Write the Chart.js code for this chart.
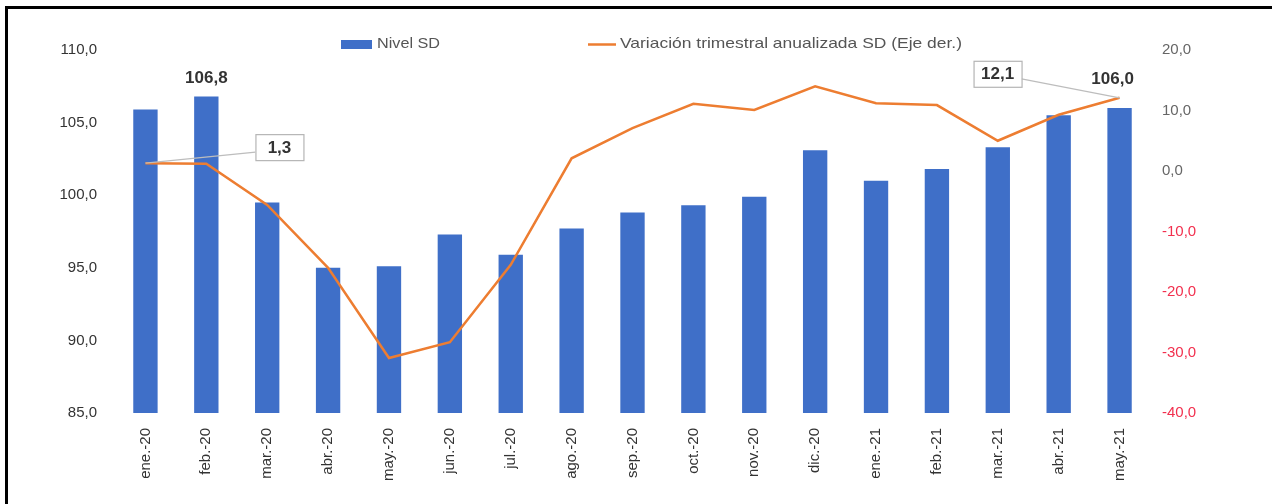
<!DOCTYPE html>
<html>
<head>
<meta charset="utf-8">
<script src="https://cdn.jsdelivr.net/npm/chart.js@4/dist/chart.umd.min.js"></script>
<style>
 html, body { margin:0; padding:0; background:#fff; }
 #wrap { position:relative; width:1272px; height:504px; }
</style>
</head>
<body>
<div id="wrap"><canvas id="myChart" width="1272" height="504"></canvas></div>
<script>
// data
var meses = ['ene.-20','feb.-20','mar.-20','abr.-20','may.-20','jun.-20','jul.-20','ago.-20','sep.-20',
             'oct.-20','nov.-20','dic.-20','ene.-21','feb.-21','mar.-21','abr.-21','may.-21'];
var nivelSD = [105.9,106.8,99.5,95.0,95.1,97.3,95.9,97.7,98.8,99.3,99.9,103.1,101.0,101.8,103.3,105.5,106.0];
var variacionSD = [1.3,1.2,-5.6,-16.0,-30.9,-28.3,-15.5,2.1,7.1,11.1,10.1,14.0,11.2,10.9,5.0,9.3,12.1];
var ticksIzq = [85,90,95,100,105,110];
var ticksDer = [-40,-30,-20,-10,0,10,20];

var AZUL = '#3f6fc8', NARANJA = '#ed7d31', ROJO = '#f2304e';
var FONT = '"Liberation Sans", Arial, sans-serif';

function coma(v){ return v.toFixed(1).replace('.', ','); }

// text drawn a bit wider, like the stretched original
function textoAncho(c, txt, x, y, ancho){
  var w = c.measureText(txt).width;
  c.save();
  c.translate(x, y);
  c.scale(ancho / w, 1);
  c.fillText(txt, 0, 0);
  c.restore();
}

// legend, callouts and frame
var extras = {
  id: 'extras',
  beforeDraw: function(chart){
    var c = chart.ctx;
    c.save();
    c.fillStyle = '#fff';
    c.fillRect(0,0,chart.width,chart.height);
    c.restore();
  },
  afterDraw: function(chart){
    var c = chart.ctx;
    var x = chart.scales.x, yl = chart.scales.y, yr = chart.scales.y1;
    c.save();
    // frame
    c.fillStyle = '#000';
    c.fillRect(5,6,3,chart.height-6);
    c.fillRect(5,6,chart.width-5,3);

    // legend
    c.font = '15px ' + FONT;
    c.textBaseline = 'middle';
    c.textAlign = 'left';
    c.fillStyle = AZUL;
    c.fillRect(341,40,31,9);
    c.fillStyle = '#555';
    textoAncho(c, 'Nivel SD', 377, 44, 63);
    c.strokeStyle = NARANJA;
    c.lineWidth = 2.5;
    c.beginPath(); c.moveTo(588,44.5); c.lineTo(616,44.5); c.stroke();
    c.fillStyle = '#555';
    textoAncho(c, 'Variación trimestral anualizada SD (Eje der.)', 620, 44, 342);

    // bar value labels
    c.font = 'bold 17px ' + FONT;
    c.fillStyle = '#333';
    c.textAlign = 'center';
    c.textBaseline = 'middle';
    [[1, 0, -18], [meses.length-1, -7, -29]].forEach(function(a){
      var i = a[0];
      c.fillText(coma(nivelSD[i]), x.getPixelForValue(i) + a[1], yl.getPixelForValue(nivelSD[i]) + a[2]);
    });

    // boxed callouts for the line
    function callout(i, dx, dy, side){
      var px = x.getPixelForValue(i), py = yr.getPixelForValue(variacionSD[i]);
      var bx = px + dx, by = py + dy, w = 48, h = 26;
      c.strokeStyle = '#bdbdbd';
      c.lineWidth = 1.2;
      c.beginPath();
      c.moveTo(px, py);
      c.lineTo(side < 0 ? bx - w/2 : bx + w/2, by + 5);
      c.stroke();
      c.fillStyle = '#fff';
      c.fillRect(bx - w/2, by - h/2, w, h);
      c.strokeStyle = '#b5b5b5';
      c.strokeRect(bx - w/2 + 0.5, by - h/2 + 0.5, w, h);
      c.fillStyle = '#333';
      c.font = 'bold 17px ' + FONT;
      c.fillText(coma(variacionSD[i]), bx, by + 1);
    }
    callout(0, 134, -16, -1);
    callout(meses.length-1, -122, -24, 1);
    c.restore();
  }
};

var ctx = document.getElementById('myChart').getContext('2d');
var myChart = new Chart(ctx, {
  type: 'bar',
  data: {
    labels: meses,
    datasets: [
      {
        type: 'line',
        label: 'Variación trimestral anualizada SD (Eje der.)',
        data: variacionSD,
        yAxisID: 'y1',
        borderColor: NARANJA,
        backgroundColor: NARANJA,
        borderWidth: 2.5,
        pointRadius: 0,
        tension: 0,
        fill: false,
        order: 0
      },
      {
        type: 'bar',
        label: 'Nivel SD',
        data: nivelSD,
        yAxisID: 'y',
        backgroundColor: AZUL,
        categoryPercentage: 1,
        barPercentage: 0.4,
        order: 1
      }
    ]
  },
  options: {
    responsive: false,
    animation: false,
    layout: { padding: { top: 50, bottom: 0, left: 0, right: 0 } },
    plugins: { legend: { display: false }, tooltip: { enabled: false } },
    scales: {
      x: {
        grid: { display: false },
        border: { display: false },
        ticks: { color: '#333', font: { size: 15, family: FONT }, minRotation: 90, maxRotation: 90, padding: 7 },
        afterFit: function(s){ s.height = 91; }
      },
      y: {
        position: 'left',
        min: ticksIzq[0], max: ticksIzq[ticksIzq.length-1],
        grid: { display: false },
        border: { display: false },
        afterBuildTicks: function(s){ s.ticks = ticksIzq.map(function(v){ return {value:v}; }); },
        ticks: { color: '#333', font: { size: 15, family: FONT }, padding: 10, callback: function(v){ return coma(v); } },
        afterFit: function(s){ s.width = 115; }
      },
      y1: {
        position: 'right',
        min: ticksDer[0], max: ticksDer[ticksDer.length-1],
        grid: { display: false },
        border: { display: false },
        afterBuildTicks: function(s){ s.ticks = ticksDer.map(function(v){ return {value:v}; }); },
        ticks: {
          font: { size: 15, family: FONT },
          padding: 4,
          color: function(c){ return c.tick && c.tick.value < 0 ? ROJO : '#666'; },
          callback: function(v){ return coma(v); }
        },
        afterFit: function(s){ s.width = 122; }
      }
    }
  },
  plugins: [extras]
});
</script>
</body>
</html>
